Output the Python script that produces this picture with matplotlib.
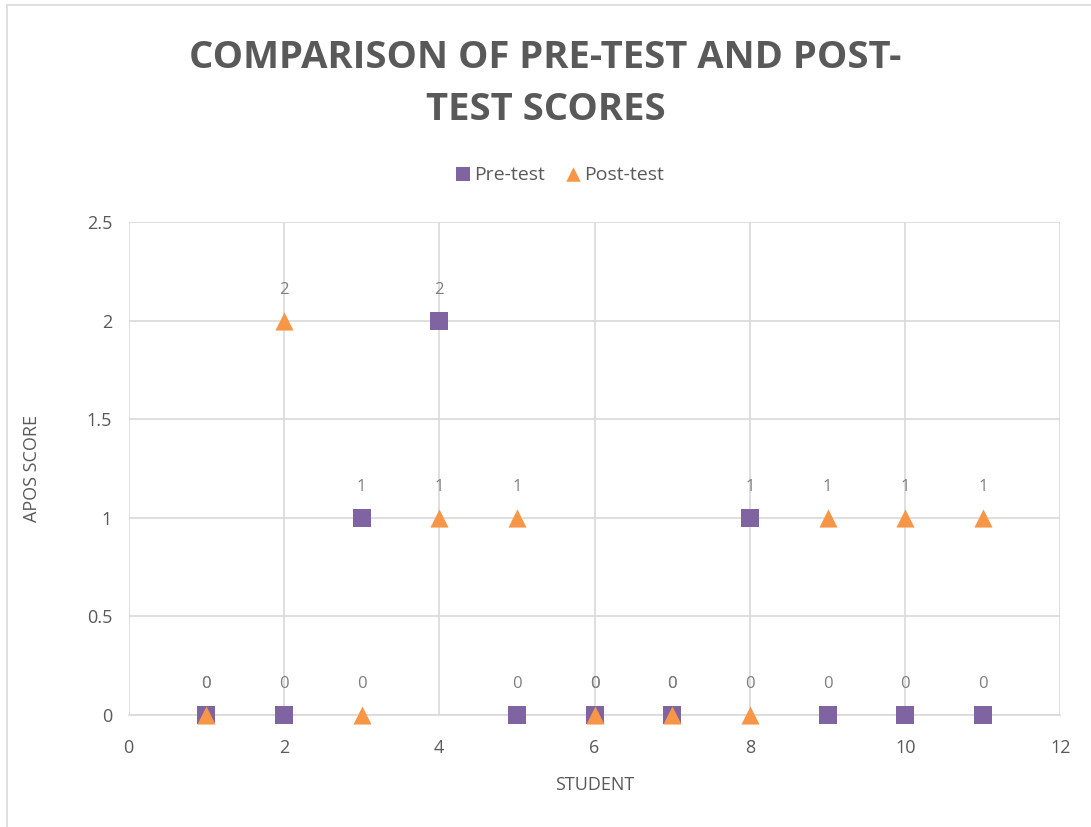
import matplotlib
matplotlib.use("Agg")
import matplotlib.pyplot as plt
from matplotlib.patches import Rectangle

students = [1, 2, 3, 4, 5, 6, 7, 8, 9, 10, 11]
pre_test = [0, 0, 1, 2, 0, 0, 0, 1, 0, 0, 0]
post_test = [0, 2, 0, 1, 1, 0, 0, 0, 1, 1, 1]
x_ticks = [0, 2, 4, 6, 8, 10, 12]
y_ticks = [0, 0.5, 1, 1.5, 2, 2.5]
y_tick_labels = ["0", "0.5", "1", "1.5", "2", "2.5"]

plt.rcParams['font.family'] = ['Open Sans', 'DejaVu Sans']

fig = plt.figure(figsize=(10.91, 8.27), dpi=100)
fig.patches.append(Rectangle((0.006, -0.01), 1.2, 1.004, transform=fig.transFigure,
                             fill=False, edgecolor='#d9d9d9', linewidth=1.2))
ax = fig.add_axes([0.118, 0.1354, 0.854, 0.5962])

pre_c = '#8064A2'
post_c = '#F79646'
txt_c = '#595959'

ax.scatter(students, pre_test, marker='s', s=150, color=pre_c, zorder=3, label='Pre-test',
           linewidths=0, clip_on=False)
ax.scatter(students, post_test, marker='^', s=170, color=post_c, zorder=4, label='Post-test',
           linewidths=0, clip_on=False)

for xs, ys in [(students, pre_test), (students, post_test)]:
    for xv, yv in zip(xs, ys):
        ax.annotate(f"{yv}", (xv, yv), xytext=(0, 22), textcoords='offset points',
                    ha='center', va='center', fontsize=12, color='#7f7f7f', zorder=5)

ax.set_xlim(0, 12)
ax.set_ylim(0, 2.5)
ax.set_xticks(x_ticks)
ax.set_yticks(y_ticks)
ax.set_yticklabels(y_tick_labels)
ax.grid(True, color='#d9d9d9', linewidth=1.2)
ax.set_axisbelow(True)
for s in ['top', 'right', 'left']:
    ax.spines[s].set_visible(False)
ax.spines['bottom'].set_color('#d9d9d9')
ax.spines['bottom'].set_linewidth(1.2)
ax.tick_params(axis='x', length=0, labelsize=13, colors=txt_c, pad=17)
ax.tick_params(axis='y', length=0, labelsize=13, colors=txt_c, pad=12)
ax.set_xlabel('STUDENT', fontsize=13, color=txt_c, labelpad=14)
ax.set_ylabel('APOS SCORE', fontsize=13, color=txt_c, labelpad=33)

fig.text(0.5, 0.8985, 'COMPARISON OF PRE-TEST AND POST-\nTEST SCORES', ha='center', va='center',
         fontsize=27.5, fontweight='bold', color=txt_c, linespacing=1.5)

ax.legend(loc='upper center', bbox_to_anchor=(0.462, 1.15), ncol=2, frameon=False,
          fontsize=14, labelcolor=txt_c, handletextpad=0.1, columnspacing=1.0,
          handlelength=0.9, markerscale=0.8)

fig.savefig('out.png', dpi=100)
